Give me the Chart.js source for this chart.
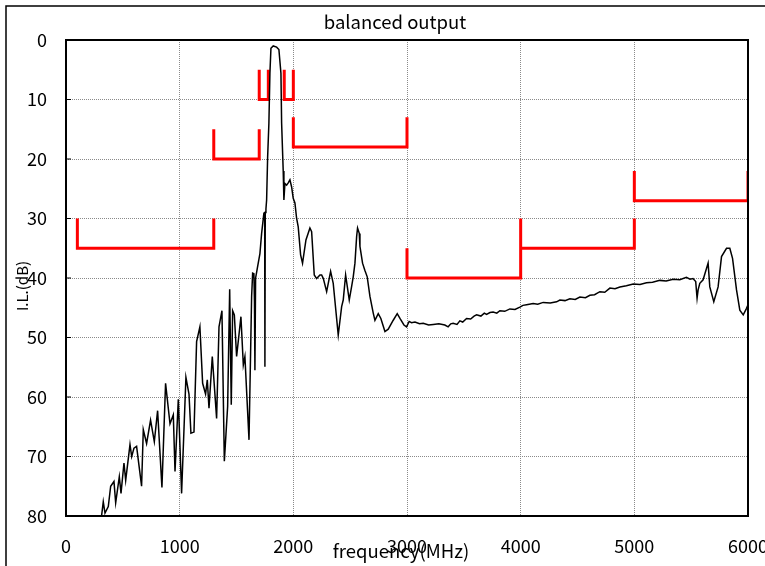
<!DOCTYPE html>
<html>
<head>
<meta charset="utf-8">
<script src="https://cdn.jsdelivr.net/npm/chart.js@4/dist/chart.umd.min.js"></script>
<style>
  html, body { margin: 0; padding: 0; background: #ffffff; }
  #wrap { width: 765px; height: 566px; }
</style>
</head>
<body>
<div id="wrap"><canvas id="ilChart" width="765" height="566"></canvas></div>
<script>
// --- Data ---
const freqMHz = [
    300, 314, 328, 343, 372, 393, 422, 437, 469, 484, 510, 525, 563, 578, 598, 621,
    665, 680, 709, 744, 777, 806, 844, 876, 915, 944, 959, 988, 1017, 1055, 1082, 1099,
    1126, 1149, 1178, 1202, 1228, 1243, 1258, 1287, 1325, 1346, 1372, 1393, 1422, 1440, 1454, 1466,
    1481, 1501, 1539, 1560, 1574, 1610, 1633, 1642, 1653, 1658, 1662, 1668, 1683, 1706, 1721, 1741,
    1748, 1750, 1753, 1759, 1765, 1774, 1785, 1794, 1803, 1823, 1853, 1873, 1891, 1897, 1911, 1917,
    1926, 1941, 1955, 1970, 1985, 1999, 2014, 2029, 2043, 2064, 2081, 2111, 2146, 2161, 2184, 2205,
    2234, 2249, 2264, 2293, 2328, 2351, 2395, 2425, 2439, 2460, 2492, 2513, 2527, 2542, 2557, 2565,
    2580, 2586, 2609, 2629, 2650, 2674, 2703, 2718, 2747, 2770, 2806, 2835, 2879, 2914, 2938, 2973,
    2996, 3019, 3040, 3070, 3110, 3143, 3190, 3231, 3280, 3333, 3362, 3385, 3406, 3440, 3465, 3490,
    3524, 3560, 3590, 3612, 3650, 3680, 3700, 3730, 3758, 3790, 3817, 3860, 3905, 3950, 3993, 4020,
    4052, 4110, 4150, 4198, 4260, 4316, 4345, 4390, 4433, 4480, 4521, 4570, 4609, 4650, 4697, 4740,
    4785, 4830, 4873, 4930, 4990, 5050, 5107, 5160, 5224, 5280, 5341, 5400, 5458, 5490,
    5516, 5540, 5552, 5561, 5576, 5605, 5649, 5664, 5699, 5737, 5767, 5811, 5840, 5864, 5899, 5928,
    5958, 5987, 6000
];
const lossDb = [
    82, 79.8, 77.6, 79.5, 78.4, 75, 74.2, 77.8, 73.4, 76.2, 71.1, 74, 68, 70, 68.6, 68.3,
    75, 65.5, 67.8, 63.9, 67.5, 62.3, 75.2, 57.7, 64.5, 63, 72.5, 60.4, 76.2, 56.7, 59.5, 66.1,
    65.9, 50.7, 48.2, 57.7, 59.5, 57.1, 61.9, 53.2, 63.6, 48.2, 45.5, 70.8, 61.6, 41.9, 61.3, 45.5,
    46.2, 53.2, 46.5, 54.6, 53.2, 67.2, 43.1, 39.2, 39.3, 44, 55.5, 40, 38.4, 35.9, 32.5, 29.1,
    29, 54.9, 29, 28.4, 26.9, 19.6, 14, 5.6, 1.4, 1.0, 1.2, 1.6, 5.6, 14, 22, 26.9,
    24.1, 24.4, 24.0, 23.5, 24.7, 26.6, 27.4, 30, 31.4, 36.1, 37.5, 33.6, 31.6, 32.2, 39.5, 40.1,
    39.5, 39.5, 40.1, 42.3, 38.9, 40.9, 49.6, 44.8, 43.7, 39.5, 43.7, 41.4, 39.8, 37.5, 33, 31.6,
    32.5, 34.7, 37.5, 38.7, 39.8, 43.1, 45.9, 47.1, 46, 46.8, 49, 48.6, 47.1, 46, 46.8, 47.9,
    48.2, 47.3, 47.5, 47.4, 47.7, 47.6, 47.9, 47.8, 47.7, 47.9, 48.2, 47.7, 47.6, 47.8, 47.2, 47.4,
    46.8, 46.9, 46.4, 46.2, 46.4, 45.9, 46.1, 45.8, 45.7, 45.9, 45.5, 45.6, 45.2, 45.3, 44.9, 44.6,
    44.5, 44.3, 44.4, 44.1, 44.2, 44, 43.7, 43.8, 43.5, 43.6, 43.2, 43.3, 42.9, 42.8, 42.3, 42.4,
    41.7, 41.8, 41.5, 41.3, 41, 41.1, 40.8, 40.7, 40.4, 40.5, 40.2, 40.3, 39.9, 40.2,
    40.1, 40.6, 43.4, 42, 40.9, 40.3, 37.5, 41.5, 44, 41.5, 36.4, 35, 35, 36.7, 42, 45.4,
    46.2, 45.1, 44.5
];

// spec mask, null separates the brackets
const maskFreq = [
    100, 100, 1300, 1300, null,
    1300, 1300, 1700, 1700, null,
    1700, 1700, 1780, 1780, null,
    1920, 1920, 2000, 2000, null,
    2000, 2000, 3000, 3000, null,
    3000, 3000, 4000, 4000, null,
    4000, 5000, 5000, null,
    5000, 5000, 6000, 6000
];
const maskDb = [
    30, 35, 35, 30, null,
    15, 20, 20, 15, null,
    5, 10, 10, 5, null,
    5, 10, 10, 5, null,
    13, 18, 18, 13, null,
    35, 40, 40, 30, null,
    35, 35, 30, null,
    22, 27, 27, 22
];

const xTicks = [0, 1000, 2000, 3000, 4000, 5000, 6000];
const yTicks = [0, 10, 20, 30, 40, 50, 60, 70, 80];

const chartTitle = 'balanced output';
const xTitle = 'frequency(MHz)';
const yTitle = 'I.L.(dB)';

// --- Helpers ---
const FONT = "'Noto Sans CJK JP', 'Noto Sans', sans-serif";
const toPoints = (xs, ys) => xs.map((x, i) => ({ x: x, y: x === null ? null : ys[i] }));

// frame, plot box and texts that chart.js would place differently
const decorPlugin = {
    id: 'decor',
    afterDraw: (chart) => {
        const { ctx, chartArea } = chart;
        ctx.save();
        // outer frame
        ctx.strokeStyle = '#000';
        ctx.lineWidth = 1.5;
        ctx.strokeRect(6, 6, 800, 600);
        // plot box
        ctx.lineWidth = 2;
        ctx.strokeRect(chartArea.left, chartArea.top, chartArea.right - chartArea.left, chartArea.bottom - chartArea.top);
        // small inner ticks on the y axis
        ctx.lineWidth = 1;
        yTicks.forEach((v) => {
            const y = chart.scales.y.getPixelForValue(v);
            ctx.beginPath();
            ctx.moveTo(chartArea.left, y);
            ctx.lineTo(chartArea.left + 5, y);
            ctx.stroke();
        });
        // texts
        ctx.fillStyle = '#000';
        ctx.textAlign = 'center';
        ctx.textBaseline = 'middle';
        ctx.font = '18.5px ' + FONT;
        ctx.fillText(chartTitle, 395, 22);
        ctx.fillText(xTitle, 401, 551);
        ctx.font = '15px ' + FONT;
        ctx.translate(22, 286);
        ctx.rotate(-Math.PI / 2);
        ctx.fillText(yTitle, 0, 0);
        ctx.restore();
    }
};

// --- Chart ---
const ctx = document.getElementById('ilChart').getContext('2d');
new Chart(ctx, {
    type: 'line',
    data: {
        datasets: [
            {
                label: 'mask',
                data: toPoints(maskFreq, maskDb),
                borderColor: '#ff0000',
                borderWidth: 3,
                pointRadius: 0,
                spanGaps: false,
                borderJoinStyle: 'miter',
                order: 2
            },
            {
                label: 'I.L.',
                data: toPoints(freqMHz, lossDb),
                borderColor: '#000000',
                borderWidth: 1.5,
                pointRadius: 0,
                tension: 0,
                order: 1
            }
        ]
    },
    options: {
        responsive: false,
        animation: false,
        events: [],
        layout: {
            autoPadding: false,
            padding: { left: 0, right: 17, top: 40, bottom: 0 }
        },
        plugins: {
            legend: { display: false },
            title: { display: false },
            tooltip: { enabled: false }
        },
        scales: {
            x: {
                type: 'linear',
                min: 0,
                max: 6000,
                afterFit: (scale) => {
                    scale.height = 50;
                    scale.paddingLeft = 0;
                    scale.paddingRight = 0;
                },
                afterBuildTicks: (scale) => { scale.ticks = xTicks.map((v) => ({ value: v })); },
                ticks: {
                    color: '#000',
                    padding: 19,
                    maxRotation: 0,
                    font: { family: FONT, size: 18 },
                    callback: (value) => String(value)
                },
                grid: { color: '#8a8a8a', lineWidth: 1, drawTicks: false },
                border: { display: false, dash: [1, 1] }
            },
            y: {
                type: 'linear',
                reverse: true,
                min: 0,
                max: 80,
                afterFit: (scale) => {
                    scale.width = 66;
                    scale.paddingTop = 0;
                    scale.paddingBottom = 0;
                },
                afterBuildTicks: (scale) => { scale.ticks = yTicks.map((v) => ({ value: v })); },
                ticks: {
                    color: '#000',
                    padding: 19,
                    font: { family: FONT, size: 18 },
                    callback: (value) => String(value)
                },
                grid: { color: '#8a8a8a', lineWidth: 1, drawTicks: false },
                border: { display: false, dash: [1, 1] }
            }
        }
    },
    plugins: [decorPlugin]
});
</script>
</body>
</html>
